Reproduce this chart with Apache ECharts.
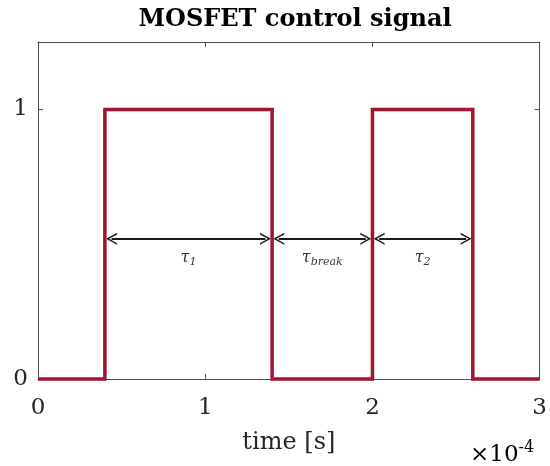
<!DOCTYPE html>
<html>
<head>
<meta charset="utf-8">
<script src="https://cdn.jsdelivr.net/npm/echarts@6/dist/echarts.min.js"></script>
<style>html,body{margin:0;padding:0;background:#fff}#c{width:550px;height:466px}</style>
</head>
<body>
<div id="c"></div>
<script>
// ---- data ----
const titleText = 'MOSFET control signal';
const xLabel = 'time [s]';
const xTicks = [0, 1, 2, 3];          // in units of 1e-4 s
const yTicks = [0, 1];
const signalTime  = [0, 0.4, 0.4, 1.4, 1.4, 2.0, 2.0, 2.6, 2.6, 3.0];
const signalValue = [0, 0,   1,   1,   0,   0,   1,   1,   0,   0];
const spanStart = [0.44, 1.44, 2.04];
const spanEnd   = [1.36, 1.96, 2.56];
const spanSub   = ['1', 'break', '2'];
const arrowY = 0.52;
const labelY = 0.45;

const chart = echarts.init(document.getElementById('c'));
const axisColor = '#4d4d4d';
const textColor = '#262626';
const serif = '"DejaVu Serif", "Liberation Serif", serif';

const signalData = signalTime.map((t, i) => [t, signalValue[i]]);
const arrowLines = spanStart.map((s, i) => [{coord: [s, arrowY]}, {coord: [spanEnd[i], arrowY]}]);
const labelData = spanStart.map((s, i) => ({value: [(s + spanEnd[i]) / 2, labelY], sub: spanSub[i]}));

const chevron = 'path://M0,10 L5,0 L10,10 L8.6,10 L5,2.8 L1.4,10 Z';

const frameAxis = {
  axisLine: {show: true, onZero: false, lineStyle: {color: axisColor, width: 1}},
  axisTick: {show: true, inside: true, length: 5, lineStyle: {color: axisColor}},
  splitLine: {show: false}
};

chart.setOption({
  animation: false,
  title: {
    text: titleText, left: 290, textAlign: 'center', top: 3,
    textStyle: {fontFamily: serif, fontWeight: 'bold', fontSize: 24, color: '#000'}
  },
  grid: {left: 38, right: 8, top: 42, bottom: 87},
  xAxis: [Object.assign({
    type: 'value', min: 0, max: 3, interval: 1, position: 'bottom',
    axisLabel: {fontFamily: serif, fontSize: 23, color: textColor, margin: 18},
    name: xLabel, nameLocation: 'middle', nameGap: 52,
    nameTextStyle: {fontFamily: serif, fontSize: 24, color: textColor}
  }, frameAxis), Object.assign({
    type: 'value', min: 0, max: 3, interval: 1, position: 'top',
    axisLabel: {show: false}
  }, frameAxis)],
  yAxis: [Object.assign({
    type: 'value', min: 0, max: 1.25, interval: 1, position: 'left',
    axisLabel: {fontFamily: serif, fontSize: 23, color: textColor, margin: 10,
      formatter: v => yTicks.includes(v) ? String(v) : ''}
  }, frameAxis), Object.assign({
    type: 'value', min: 0, max: 1.25, interval: 1, position: 'right',
    axisLabel: {show: false}
  }, frameAxis)],
  graphic: [{
    type: 'text', left: 470, top: 440,
    style: {
      text: '{a|×10}{b|-4}',
      rich: {
        a: {fontFamily: serif, fontSize: 23, color: textColor},
        b: {fontFamily: serif, fontSize: 16, color: textColor, padding: [0, 0, 15, 0]}
      }
    }
  }],
  series: [{
    type: 'line', data: signalData, xAxisIndex: 0, yAxisIndex: 0,
    showSymbol: false, clip: false, z: 5,
    lineStyle: {color: '#A2142F', width: 3.5, join: 'miter'},
    markLine: {
      silent: true, symbol: [chevron, chevron], symbolSize: [12, 11],
      label: {show: false},
      lineStyle: {color: '#1a1a1a', width: 2, type: 'solid'},
      itemStyle: {color: '#1a1a1a'},
      data: arrowLines
    }
  }, {
    type: 'line', data: [], xAxisIndex: 1, yAxisIndex: 1
  }, {
    type: 'scatter', data: labelData, symbolSize: 0, z: 6,
    label: {
      show: true, position: 'inside',
      formatter: p => '{t|τ}{s|' + p.data.sub + '}',
      rich: {
        t: {fontFamily: serif, fontStyle: 'italic', fontSize: 16, color: '#000'},
        s: {fontFamily: serif, fontStyle: 'italic', fontSize: 11, color: '#000', padding: [8, 0, 0, 0]}
      }
    }
  }]
});
</script>
</body>
</html>
